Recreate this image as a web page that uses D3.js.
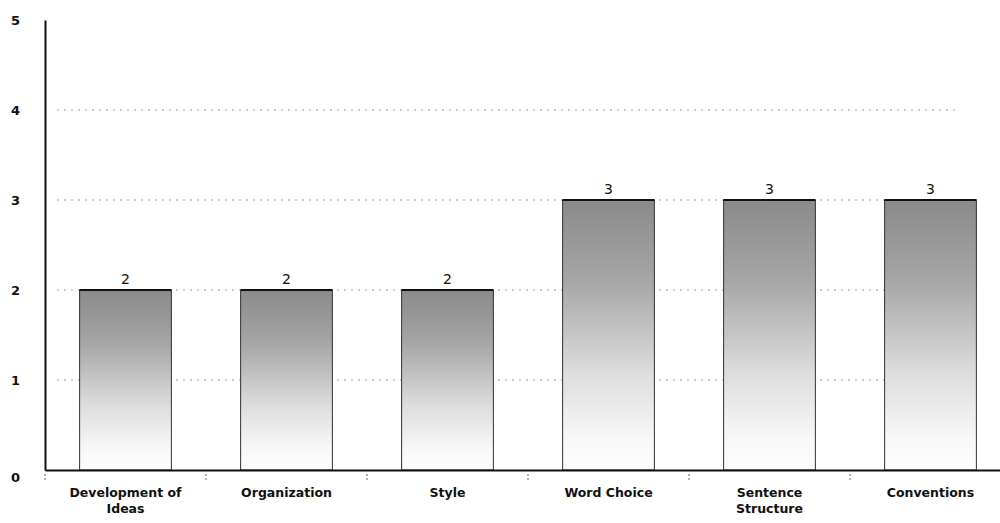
<!DOCTYPE html>
<html lang="en">
<head>
    <meta charset="UTF-8">
    <title>Scores</title>
    <style>
        body { margin: 0; background: #fff; }
        text { font-family: "DejaVu Sans", sans-serif; }
    </style>
</head>
<body>
<script src="https://d3js.org/d3.v7.min.js"></script>
<script>
    const categories = ["Development of Ideas", "Organization", "Style", "Word Choice", "Sentence Structure", "Conventions"];
    const scores = [2, 2, 2, 3, 3, 3];
    const yTicks = [0, 1, 2, 3, 4, 5];

    const width = 1000;
    const height = 523;
    const plotLeft = 45, plotTop = 20, plotBottom = 470, plotRight = 1011;

    const svg = d3.select("body")
        .append("svg")
        .attr("width", width)
        .attr("height", height);

    // shaded fill, dark at the top fading out
    const grad = svg.append("defs").append("linearGradient")
        .attr("id", "shade")
        .attr("x1", 0).attr("y1", 0).attr("x2", 0).attr("y2", 1);
    grad.append("stop").attr("offset", "0%").attr("stop-color", "#8a8a8a");
    grad.append("stop").attr("offset", "30%").attr("stop-color", "#a6a6a6");
    grad.append("stop").attr("offset", "65%").attr("stop-color", "#dedede");
    grad.append("stop").attr("offset", "88%").attr("stop-color", "#f7f7f7");
    grad.append("stop").attr("offset", "100%").attr("stop-color", "#fdfdfd");

    const x = d3.scaleBand()
        .domain(categories)
        .range([plotLeft, plotRight])
        .paddingInner(0.43)
        .paddingOuter(0.215);

    const y = d3.scaleLinear()
        .domain([0, 5])
        .range([plotBottom, plotTop]);

    // gridlines
    svg.append("g")
        .selectAll("line")
        .data(yTicks.filter(d => d > 0 && d < 5))
        .enter()
        .append("line")
        .attr("x1", plotLeft + 12)
        .attr("x2", 955)
        .attr("y1", d => y(d))
        .attr("y2", d => y(d))
        .attr("stroke", "#777")
        .attr("stroke-width", 0.7)
        .attr("stroke-dasharray", "2,5");

    // y axis
    const yAxis = svg.append("g")
        .attr("transform", `translate(${plotLeft},0)`)
        .call(d3.axisLeft(y).tickValues(yTicks).tickFormat(d3.format("d")).tickSize(0).tickPadding(25));
    yAxis.select(".domain").attr("stroke", "#111").attr("stroke-width", 2);
    yAxis.selectAll("text")
        .attr("font-size", "13px")
        .attr("font-weight", "bold")
        .attr("fill", "#111");
    yAxis.selectAll(".tick")
        .filter(d => d === 0)
        .select("text")
        .attr("dy", "0.9em");

    // bars
    const bars = svg.append("g");
    bars.selectAll("rect")
        .data(scores)
        .enter()
        .append("rect")
        .attr("x", (d, i) => x(categories[i]))
        .attr("y", d => y(d))
        .attr("width", x.bandwidth())
        .attr("height", d => y(0) - y(d))
        .attr("fill", "url(#shade)")
        .attr("stroke", "#333")
        .attr("stroke-width", 1);
    bars.selectAll("line.top")
        .data(scores)
        .enter()
        .append("line")
        .attr("class", "top")
        .attr("x1", (d, i) => x(categories[i]))
        .attr("x2", (d, i) => x(categories[i]) + x.bandwidth())
        .attr("y1", d => y(d))
        .attr("y2", d => y(d))
        .attr("stroke", "#111")
        .attr("stroke-width", 2);

    // value labels
    svg.append("g")
        .selectAll("text")
        .data(scores)
        .enter()
        .append("text")
        .attr("x", (d, i) => x(categories[i]) + x.bandwidth() / 2)
        .attr("y", d => y(d) - 6)
        .attr("text-anchor", "middle")
        .attr("font-size", "14px")
        .attr("fill", "#111")
        .text(d => d);

    // x axis
    const xAxis = svg.append("g")
        .attr("transform", `translate(0,${plotBottom})`)
        .call(d3.axisBottom(x).tickSize(0).tickPadding(18));
    xAxis.select(".domain").attr("stroke", "#111").attr("stroke-width", 2);
    xAxis.selectAll("text")
        .attr("font-size", "12.5px")
        .attr("font-weight", "bold")
        .attr("fill", "#111")
        .each(function (d) {
            const t = d3.select(this);
            let lines = [d];
            if (d === "Development of Ideas") lines = ["Development of", "Ideas"];
            if (d === "Sentence Structure") lines = ["Sentence", "Structure"];
            t.text(null);
            lines.forEach((line, k) => {
                t.append("tspan")
                    .attr("x", 0)
                    .attr("dy", k === 0 ? "0.71em" : "1.3em")
                    .text(line);
            });
        });

    // small marks between categories under the axis
    svg.append("g")
        .selectAll("line")
        .data(categories)
        .enter()
        .append("line")
        .attr("x1", (d, i) => plotLeft + i * x.step())
        .attr("x2", (d, i) => plotLeft + i * x.step())
        .attr("y1", plotBottom + 4)
        .attr("y2", plotBottom + 12)
        .attr("stroke", "#444")
        .attr("stroke-width", 0.8)
        .attr("stroke-dasharray", "2,2");
</script>
</body>
</html>
